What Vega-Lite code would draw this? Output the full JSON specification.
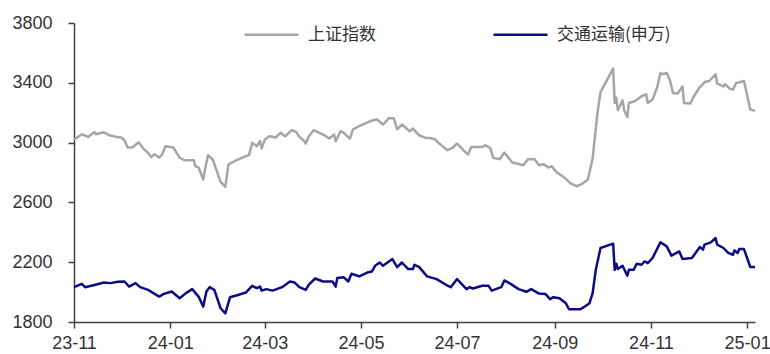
{
  "$schema": "https://vega.github.io/schema/vega-lite/v6.json",
  "width": 681,
  "height": 299,
  "autosize": {"type": "none"},
  "padding": {"left": 74, "top": 23, "right": 15, "bottom": 32},
  "background": "white",
  "config": {
    "view": {"stroke": null},
    "font": "Liberation Sans"
  },
  "data": {
    "values": [
      {"d": "2023-11-01", "s": "上证指数", "v": 3020},
      {"d": "2023-11-06", "s": "上证指数", "v": 3056},
      {"d": "2023-11-10", "s": "上证指数", "v": 3038},
      {"d": "2023-11-14", "s": "上证指数", "v": 3071},
      {"d": "2023-11-15", "s": "上证指数", "v": 3056},
      {"d": "2023-11-20", "s": "上证指数", "v": 3069},
      {"d": "2023-11-24", "s": "上证指数", "v": 3047},
      {"d": "2023-11-28", "s": "上证指数", "v": 3038},
      {"d": "2023-12-01", "s": "上证指数", "v": 3034},
      {"d": "2023-12-03", "s": "上证指数", "v": 3016},
      {"d": "2023-12-05", "s": "上证指数", "v": 2967},
      {"d": "2023-12-08", "s": "上证指数", "v": 2967},
      {"d": "2023-12-12", "s": "上证指数", "v": 3002},
      {"d": "2023-12-15", "s": "上证指数", "v": 2960},
      {"d": "2023-12-18", "s": "上证指数", "v": 2931},
      {"d": "2023-12-20", "s": "上证指数", "v": 2904},
      {"d": "2023-12-22", "s": "上证指数", "v": 2922},
      {"d": "2023-12-25", "s": "上证指数", "v": 2900},
      {"d": "2023-12-27", "s": "上证指数", "v": 2922},
      {"d": "2023-12-29", "s": "上证指数", "v": 2976},
      {"d": "2024-01-03", "s": "上证指数", "v": 2967},
      {"d": "2024-01-07", "s": "上证指数", "v": 2900},
      {"d": "2024-01-10", "s": "上证指数", "v": 2882},
      {"d": "2024-01-16", "s": "上证指数", "v": 2882},
      {"d": "2024-01-17", "s": "上证指数", "v": 2842},
      {"d": "2024-01-19", "s": "上证指数", "v": 2833},
      {"d": "2024-01-22", "s": "上证指数", "v": 2753},
      {"d": "2024-01-23", "s": "上证指数", "v": 2815},
      {"d": "2024-01-25", "s": "上证指数", "v": 2916},
      {"d": "2024-01-28", "s": "上证指数", "v": 2887},
      {"d": "2024-02-02", "s": "上证指数", "v": 2737},
      {"d": "2024-02-05", "s": "上证指数", "v": 2704},
      {"d": "2024-02-07", "s": "上证指数", "v": 2855},
      {"d": "2024-02-12", "s": "上证指数", "v": 2882},
      {"d": "2024-02-18", "s": "上证指数", "v": 2909},
      {"d": "2024-02-20", "s": "上证指数", "v": 2916},
      {"d": "2024-02-22", "s": "上证指数", "v": 2998},
      {"d": "2024-02-25", "s": "上证指数", "v": 2976},
      {"d": "2024-02-27", "s": "上证指数", "v": 3011},
      {"d": "2024-02-28", "s": "上证指数", "v": 2960},
      {"d": "2024-03-01", "s": "上证指数", "v": 3020},
      {"d": "2024-03-04", "s": "上证指数", "v": 3042},
      {"d": "2024-03-08", "s": "上证指数", "v": 3034},
      {"d": "2024-03-11", "s": "上证指数", "v": 3065},
      {"d": "2024-03-14", "s": "上证指数", "v": 3042},
      {"d": "2024-03-18", "s": "上证指数", "v": 3083},
      {"d": "2024-03-21", "s": "上证指数", "v": 3071},
      {"d": "2024-03-23", "s": "上证指数", "v": 3038},
      {"d": "2024-03-26", "s": "上证指数", "v": 3011},
      {"d": "2024-03-27", "s": "上证指数", "v": 2994},
      {"d": "2024-03-29", "s": "上证指数", "v": 3042},
      {"d": "2024-04-01", "s": "上证指数", "v": 3083},
      {"d": "2024-04-07", "s": "上证指数", "v": 3054},
      {"d": "2024-04-11", "s": "上证指数", "v": 3027},
      {"d": "2024-04-14", "s": "上证指数", "v": 3054},
      {"d": "2024-04-15", "s": "上证指数", "v": 3009},
      {"d": "2024-04-18", "s": "上证指数", "v": 3076},
      {"d": "2024-04-20", "s": "上证指数", "v": 3067},
      {"d": "2024-04-24", "s": "上证指数", "v": 3027},
      {"d": "2024-04-26", "s": "上证指数", "v": 3089},
      {"d": "2024-04-30", "s": "上证指数", "v": 3111},
      {"d": "2024-05-07", "s": "上证指数", "v": 3143},
      {"d": "2024-05-11", "s": "上证指数", "v": 3156},
      {"d": "2024-05-15", "s": "上证指数", "v": 3121},
      {"d": "2024-05-19", "s": "上证指数", "v": 3165},
      {"d": "2024-05-22", "s": "上证指数", "v": 3161},
      {"d": "2024-05-24", "s": "上证指数", "v": 3089},
      {"d": "2024-05-27", "s": "上证指数", "v": 3121},
      {"d": "2024-06-01", "s": "上证指数", "v": 3076},
      {"d": "2024-06-03", "s": "上证指数", "v": 3094},
      {"d": "2024-06-07", "s": "上证指数", "v": 3049},
      {"d": "2024-06-11", "s": "上证指数", "v": 3031},
      {"d": "2024-06-14", "s": "上证指数", "v": 3031},
      {"d": "2024-06-17", "s": "上证指数", "v": 3022},
      {"d": "2024-06-19", "s": "上证指数", "v": 3000},
      {"d": "2024-06-25", "s": "上证指数", "v": 2949},
      {"d": "2024-06-28", "s": "上证指数", "v": 2964},
      {"d": "2024-07-01", "s": "上证指数", "v": 2994},
      {"d": "2024-07-05", "s": "上证指数", "v": 2949},
      {"d": "2024-07-08", "s": "上证指数", "v": 2920},
      {"d": "2024-07-10", "s": "上证指数", "v": 2971},
      {"d": "2024-07-17", "s": "上证指数", "v": 2971},
      {"d": "2024-07-19", "s": "上证指数", "v": 2982},
      {"d": "2024-07-22", "s": "上证指数", "v": 2964},
      {"d": "2024-07-24", "s": "上证指数", "v": 2898},
      {"d": "2024-07-28", "s": "上证指数", "v": 2889},
      {"d": "2024-07-31", "s": "上证指数", "v": 2934},
      {"d": "2024-08-05", "s": "上证指数", "v": 2867},
      {"d": "2024-08-08", "s": "上证指数", "v": 2860},
      {"d": "2024-08-12", "s": "上证指数", "v": 2849},
      {"d": "2024-08-15", "s": "上证指数", "v": 2889},
      {"d": "2024-08-19", "s": "上证指数", "v": 2891},
      {"d": "2024-08-22", "s": "上证指数", "v": 2849},
      {"d": "2024-08-25", "s": "上证指数", "v": 2855},
      {"d": "2024-08-28", "s": "上证指数", "v": 2833},
      {"d": "2024-08-30", "s": "上证指数", "v": 2842},
      {"d": "2024-09-02", "s": "上证指数", "v": 2804},
      {"d": "2024-09-07", "s": "上证指数", "v": 2767},
      {"d": "2024-09-11", "s": "上证指数", "v": 2727},
      {"d": "2024-09-15", "s": "上证指数", "v": 2708},
      {"d": "2024-09-18", "s": "上证指数", "v": 2722},
      {"d": "2024-09-22", "s": "上证指数", "v": 2753},
      {"d": "2024-09-25", "s": "上证指数", "v": 2893},
      {"d": "2024-09-28", "s": "上证指数", "v": 3194},
      {"d": "2024-09-30", "s": "上证指数", "v": 3338},
      {"d": "2024-10-08", "s": "上证指数", "v": 3495},
      {"d": "2024-10-09", "s": "上证指数", "v": 3265},
      {"d": "2024-10-10", "s": "上证指数", "v": 3301},
      {"d": "2024-10-11", "s": "上证指数", "v": 3216},
      {"d": "2024-10-14", "s": "上证指数", "v": 3283},
      {"d": "2024-10-15", "s": "上证指数", "v": 3216},
      {"d": "2024-10-17", "s": "上证指数", "v": 3171},
      {"d": "2024-10-18", "s": "上证指数", "v": 3265},
      {"d": "2024-10-22", "s": "上证指数", "v": 3278},
      {"d": "2024-10-24", "s": "上证指数", "v": 3294},
      {"d": "2024-10-26", "s": "上证指数", "v": 3310},
      {"d": "2024-10-29", "s": "上证指数", "v": 3323},
      {"d": "2024-10-30", "s": "上证指数", "v": 3265},
      {"d": "2024-11-02", "s": "上证指数", "v": 3288},
      {"d": "2024-11-05", "s": "上证指数", "v": 3372},
      {"d": "2024-11-07", "s": "上证指数", "v": 3465},
      {"d": "2024-11-08", "s": "上证指数", "v": 3457},
      {"d": "2024-11-11", "s": "上证指数", "v": 3465},
      {"d": "2024-11-13", "s": "上证指数", "v": 3417},
      {"d": "2024-11-15", "s": "上证指数", "v": 3332},
      {"d": "2024-11-18", "s": "上证指数", "v": 3328},
      {"d": "2024-11-21", "s": "上证指数", "v": 3376},
      {"d": "2024-11-22", "s": "上证指数", "v": 3265},
      {"d": "2024-11-26", "s": "上证指数", "v": 3261},
      {"d": "2024-11-28", "s": "上证指数", "v": 3305},
      {"d": "2024-12-02", "s": "上证指数", "v": 3372},
      {"d": "2024-12-04", "s": "上证指数", "v": 3390},
      {"d": "2024-12-05", "s": "上证指数", "v": 3405},
      {"d": "2024-12-08", "s": "上证指数", "v": 3412},
      {"d": "2024-12-12", "s": "上证指数", "v": 3457},
      {"d": "2024-12-13", "s": "上证指数", "v": 3394},
      {"d": "2024-12-17", "s": "上证指数", "v": 3376},
      {"d": "2024-12-18", "s": "上证指数", "v": 3390},
      {"d": "2024-12-21", "s": "上证指数", "v": 3361},
      {"d": "2024-12-23", "s": "上证指数", "v": 3354},
      {"d": "2024-12-25", "s": "上证指数", "v": 3398},
      {"d": "2024-12-30", "s": "上证指数", "v": 3412},
      {"d": "2025-01-03", "s": "上证指数", "v": 3221},
      {"d": "2025-01-06", "s": "上证指数", "v": 3212},

      {"d": "2023-11-01", "s": "交通运输(申万)", "v": 2033},
      {"d": "2023-11-06", "s": "交通运输(申万)", "v": 2055},
      {"d": "2023-11-08", "s": "交通运输(申万)", "v": 2033},
      {"d": "2023-11-14", "s": "交通运输(申万)", "v": 2047},
      {"d": "2023-11-20", "s": "交通运输(申万)", "v": 2064},
      {"d": "2023-11-24", "s": "交通运输(申万)", "v": 2060},
      {"d": "2023-11-29", "s": "交通运输(申万)", "v": 2069},
      {"d": "2023-12-03", "s": "交通运输(申万)", "v": 2071},
      {"d": "2023-12-06", "s": "交通运输(申万)", "v": 2037},
      {"d": "2023-12-10", "s": "交通运输(申万)", "v": 2060},
      {"d": "2023-12-13", "s": "交通运输(申万)", "v": 2033},
      {"d": "2023-12-18", "s": "交通运输(申万)", "v": 2015},
      {"d": "2023-12-25", "s": "交通运输(申万)", "v": 1970},
      {"d": "2023-12-28", "s": "交通运输(申万)", "v": 1988},
      {"d": "2024-01-02", "s": "交通运输(申万)", "v": 2004},
      {"d": "2024-01-07", "s": "交通运输(申万)", "v": 1959},
      {"d": "2024-01-11", "s": "交通运输(申万)", "v": 1993},
      {"d": "2024-01-15", "s": "交通运输(申万)", "v": 2020},
      {"d": "2024-01-19", "s": "交通运输(申万)", "v": 1970},
      {"d": "2024-01-22", "s": "交通运输(申万)", "v": 1903},
      {"d": "2024-01-24", "s": "交通运输(申万)", "v": 2004},
      {"d": "2024-01-26", "s": "交通运输(申万)", "v": 2033},
      {"d": "2024-01-29", "s": "交通运输(申万)", "v": 2015},
      {"d": "2024-02-02", "s": "交通运输(申万)", "v": 1892},
      {"d": "2024-02-05", "s": "交通运输(申万)", "v": 1858},
      {"d": "2024-02-08", "s": "交通运输(申万)", "v": 1966},
      {"d": "2024-02-13", "s": "交通运输(申万)", "v": 1981},
      {"d": "2024-02-18", "s": "交通运输(申万)", "v": 1997},
      {"d": "2024-02-22", "s": "交通运输(申万)", "v": 2042},
      {"d": "2024-02-25", "s": "交通运输(申万)", "v": 2026},
      {"d": "2024-02-27", "s": "交通运输(申万)", "v": 2037},
      {"d": "2024-02-28", "s": "交通运输(申万)", "v": 2010},
      {"d": "2024-03-02", "s": "交通运输(申万)", "v": 2020},
      {"d": "2024-03-06", "s": "交通运输(申万)", "v": 2010},
      {"d": "2024-03-12", "s": "交通运输(申万)", "v": 2033},
      {"d": "2024-03-17", "s": "交通运输(申万)", "v": 2071},
      {"d": "2024-03-20", "s": "交通运输(申万)", "v": 2064},
      {"d": "2024-03-23", "s": "交通运输(申万)", "v": 2033},
      {"d": "2024-03-27", "s": "交通运输(申万)", "v": 2015},
      {"d": "2024-03-29", "s": "交通运输(申万)", "v": 2050},
      {"d": "2024-04-02", "s": "交通运输(申万)", "v": 2091},
      {"d": "2024-04-07", "s": "交通运输(申万)", "v": 2071},
      {"d": "2024-04-13", "s": "交通运输(申万)", "v": 2071},
      {"d": "2024-04-15", "s": "交通运输(申万)", "v": 2037},
      {"d": "2024-04-16", "s": "交通运输(申万)", "v": 2094},
      {"d": "2024-04-20", "s": "交通运输(申万)", "v": 2100},
      {"d": "2024-04-23", "s": "交通运输(申万)", "v": 2071},
      {"d": "2024-04-25", "s": "交通运输(申万)", "v": 2123},
      {"d": "2024-04-30", "s": "交通运输(申万)", "v": 2105},
      {"d": "2024-05-05", "s": "交通运输(申万)", "v": 2131},
      {"d": "2024-05-08", "s": "交通运输(申万)", "v": 2138},
      {"d": "2024-05-10", "s": "交通运输(申万)", "v": 2176},
      {"d": "2024-05-13", "s": "交通运输(申万)", "v": 2198},
      {"d": "2024-05-15", "s": "交通运输(申万)", "v": 2176},
      {"d": "2024-05-21", "s": "交通运输(申万)", "v": 2221},
      {"d": "2024-05-24", "s": "交通运输(申万)", "v": 2167},
      {"d": "2024-05-27", "s": "交通运输(申万)", "v": 2198},
      {"d": "2024-05-31", "s": "交通运输(申万)", "v": 2154},
      {"d": "2024-06-03", "s": "交通运输(申万)", "v": 2154},
      {"d": "2024-06-04", "s": "交通运输(申万)", "v": 2183},
      {"d": "2024-06-07", "s": "交通运输(申万)", "v": 2167},
      {"d": "2024-06-12", "s": "交通运输(申万)", "v": 2105},
      {"d": "2024-06-18", "s": "交通运输(申万)", "v": 2087},
      {"d": "2024-06-24", "s": "交通运输(申万)", "v": 2049},
      {"d": "2024-06-27", "s": "交通运输(申万)", "v": 2033},
      {"d": "2024-07-01", "s": "交通运输(申万)", "v": 2087},
      {"d": "2024-07-07", "s": "交通运输(申万)", "v": 2020},
      {"d": "2024-07-09", "s": "交通运输(申万)", "v": 2033},
      {"d": "2024-07-11", "s": "交通运输(申万)", "v": 2024},
      {"d": "2024-07-17", "s": "交通运输(申万)", "v": 2042},
      {"d": "2024-07-21", "s": "交通运输(申万)", "v": 2042},
      {"d": "2024-07-23", "s": "交通运输(申万)", "v": 2010},
      {"d": "2024-07-29", "s": "交通运输(申万)", "v": 2033},
      {"d": "2024-07-31", "s": "交通运输(申万)", "v": 2078},
      {"d": "2024-08-04", "s": "交通运输(申万)", "v": 2055},
      {"d": "2024-08-09", "s": "交通运输(申万)", "v": 2020},
      {"d": "2024-08-14", "s": "交通运输(申万)", "v": 2002},
      {"d": "2024-08-17", "s": "交通运输(申万)", "v": 2020},
      {"d": "2024-08-22", "s": "交通运输(申万)", "v": 1990},
      {"d": "2024-08-26", "s": "交通运输(申万)", "v": 1988},
      {"d": "2024-08-29", "s": "交通运输(申万)", "v": 1953},
      {"d": "2024-08-31", "s": "交通运输(申万)", "v": 1966},
      {"d": "2024-09-04", "s": "交通运输(申万)", "v": 1959},
      {"d": "2024-09-08", "s": "交通运输(申万)", "v": 1926},
      {"d": "2024-09-10", "s": "交通运输(申万)", "v": 1885},
      {"d": "2024-09-17", "s": "交通运输(申万)", "v": 1885},
      {"d": "2024-09-20", "s": "交通运输(申万)", "v": 1903},
      {"d": "2024-09-23", "s": "交通运输(申万)", "v": 1926},
      {"d": "2024-09-25", "s": "交通运输(申万)", "v": 1993},
      {"d": "2024-09-27", "s": "交通运输(申万)", "v": 2149},
      {"d": "2024-09-30", "s": "交通运输(申万)", "v": 2295},
      {"d": "2024-10-08", "s": "交通运输(申万)", "v": 2324},
      {"d": "2024-10-09", "s": "交通运输(申万)", "v": 2149},
      {"d": "2024-10-10", "s": "交通运输(申万)", "v": 2190},
      {"d": "2024-10-11", "s": "交通运输(申万)", "v": 2154},
      {"d": "2024-10-14", "s": "交通运输(申万)", "v": 2176},
      {"d": "2024-10-17", "s": "交通运输(申万)", "v": 2109},
      {"d": "2024-10-18", "s": "交通运输(申万)", "v": 2149},
      {"d": "2024-10-21", "s": "交通运输(申万)", "v": 2149},
      {"d": "2024-10-23", "s": "交通运输(申万)", "v": 2190},
      {"d": "2024-10-26", "s": "交通运输(申万)", "v": 2183},
      {"d": "2024-10-28", "s": "交通运输(申万)", "v": 2205},
      {"d": "2024-10-30", "s": "交通运输(申万)", "v": 2194},
      {"d": "2024-11-02", "s": "交通运输(申万)", "v": 2228},
      {"d": "2024-11-07", "s": "交通运输(申万)", "v": 2333},
      {"d": "2024-11-11", "s": "交通运输(申万)", "v": 2306},
      {"d": "2024-11-14", "s": "交通运输(申万)", "v": 2244},
      {"d": "2024-11-19", "s": "交通运输(申万)", "v": 2272},
      {"d": "2024-11-21", "s": "交通运输(申万)", "v": 2221},
      {"d": "2024-11-27", "s": "交通运输(申万)", "v": 2228},
      {"d": "2024-12-02", "s": "交通运输(申万)", "v": 2302},
      {"d": "2024-12-04", "s": "交通运输(申万)", "v": 2284},
      {"d": "2024-12-05", "s": "交通运输(申万)", "v": 2318},
      {"d": "2024-12-09", "s": "交通运输(申万)", "v": 2333},
      {"d": "2024-12-12", "s": "交通运输(申万)", "v": 2362},
      {"d": "2024-12-13", "s": "交通运输(申万)", "v": 2318},
      {"d": "2024-12-17", "s": "交通运输(申万)", "v": 2295},
      {"d": "2024-12-20", "s": "交通运输(申万)", "v": 2262},
      {"d": "2024-12-23", "s": "交通运输(申万)", "v": 2250},
      {"d": "2024-12-24", "s": "交通运输(申万)", "v": 2279},
      {"d": "2024-12-26", "s": "交通运输(申万)", "v": 2262},
      {"d": "2024-12-27", "s": "交通运输(申万)", "v": 2288},
      {"d": "2024-12-30", "s": "交通运输(申万)", "v": 2288},
      {"d": "2025-01-03", "s": "交通运输(申万)", "v": 2168},
      {"d": "2025-01-06", "s": "交通运输(申万)", "v": 2168}
    ]
  },
  "mark": {"type": "line", "strokeWidth": 2.5, "strokeJoin": "round"},
  "encoding": {
    "x": {
      "field": "d",
      "type": "temporal",
      "scale": {
        "type": "utc",
        "domain": [
          {"year": 2023, "month": 11, "date": 1, "utc": true},
          {"year": 2025, "month": 1, "date": 6, "utc": true}
        ]
      },
      "axis": {
        "title": null,
        "grid": false,
        "format": "%y-%m",
        "values": [
          {"year": 2023, "month": 11, "date": 1, "utc": true},
          {"year": 2024, "month": 1, "date": 1, "utc": true},
          {"year": 2024, "month": 3, "date": 1, "utc": true},
          {"year": 2024, "month": 5, "date": 1, "utc": true},
          {"year": 2024, "month": 7, "date": 1, "utc": true},
          {"year": 2024, "month": 9, "date": 1, "utc": true},
          {"year": 2024, "month": 11, "date": 1, "utc": true},
          {"year": 2025, "month": 1, "date": 1, "utc": true}
        ],
        "domainColor": "#404040",
        "domainWidth": 1.5,
        "tickColor": "#404040",
        "tickWidth": 1.5,
        "tickSize": 6,
        "labelFont": "Liberation Sans",
        "labelFontSize": 18,
        "labelColor": "#333333",
        "labelPadding": 6,
        "labelFlush": false,
        "labelOverlap": false
      }
    },
    "y": {
      "field": "v",
      "type": "quantitative",
      "scale": {"domain": [1800, 3800], "nice": false, "zero": false},
      "axis": {
        "title": null,
        "grid": false,
        "format": "d",
        "values": [1800, 2200, 2600, 3000, 3400, 3800],
        "domainColor": "#404040",
        "domainWidth": 1.5,
        "tickColor": "#404040",
        "tickWidth": 1.5,
        "tickSize": 6,
        "labelFont": "Liberation Sans",
        "labelFontSize": 18,
        "labelColor": "#333333",
        "labelPadding": 16,
        "labelOverlap": false
      }
    },
    "color": {
      "field": "s",
      "type": "nominal",
      "scale": {
        "domain": ["上证指数", "交通运输(申万)"],
        "range": ["#a6a6a6", "#0c0c85"]
      },
      "legend": {
        "title": null,
        "orient": "none",
        "legendX": 169,
        "legendY": -17,
        "direction": "horizontal",
        "symbolType": "stroke",
        "symbolSize": 2916,
        "symbolStrokeWidth": 2.5,
        "labelFont": "Noto Sans CJK SC",
        "labelFontSize": 17,
        "labelColor": "#333333",
        "labelOffset": 8,
        "columnPadding": 112
      }
    }
  }
}
